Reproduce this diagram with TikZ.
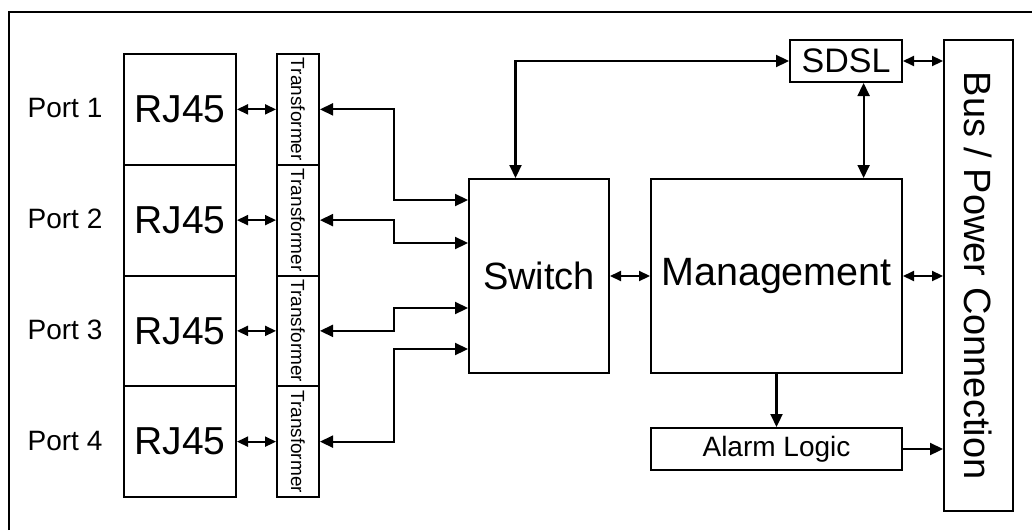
\documentclass[tikz,border=0pt]{standalone}
\usepackage{fontspec}
\setmainfont{Liberation Sans}
\usetikzlibrary{arrows.meta}
\begin{document}
\begin{tikzpicture}[x=1pt,y=-1pt,
  box/.style={draw, line width=2pt, inner sep=0pt, anchor=north west},
  conn/.style={line width=2.2pt, {Triangle[length=13pt,width=12pt]}-{Triangle[length=13pt,width=12pt]}},
  sconn/.style={line width=2.2pt, {Triangle[length=11pt,width=10pt]}-{Triangle[length=11pt,width=10pt]}},
  oconn/.style={line width=2.2pt, -{Triangle[length=13pt,width=12pt]}},
  portlbl/.style={font=\fontsize{28}{30}\selectfont},
  big/.style={font=\fontsize{39}{42}\selectfont},
  rjbox/.style={box, minimum width=112pt, minimum height=110.75pt, big},
  trbox/.style={box, minimum width=42pt, minimum height=110.75pt, font=\fontsize{19}{20}\selectfont}
]
\useasboundingbox (0,0) rectangle (1032,530);
\draw[line width=2.2pt] (9,530) -- (9,12) -- (1032,12);

\foreach \i/\y in {1/53,2/163.75,3/274.5,4/385.25}{
  \node[rjbox] (rj\i) at (123,\y) {RJ45};
  \node[trbox] (t\i) at (276,\y) {\rotatebox{-90}{Transformer}};
  \node[portlbl] (p\i) at (65,\y+55.4) {Port \i};
  \draw[sconn] (rj\i.east) -- (t\i.west);
}

\node[box, minimum width=140pt, minimum height=194pt, font=\fontsize{38}{40}\selectfont] (sw) at (468,178) {Switch};
\node[box, minimum width=251pt, minimum height=194pt, font=\fontsize{39.5}{42}\selectfont] (mg) at (650,178) {Management};
\node[box, minimum width=112pt, minimum height=42pt, font=\fontsize{34}{36}\selectfont] (sdsl) at (789,39) {SDSL};
\node[box, minimum width=251pt, minimum height=42pt, font=\fontsize{28}{30}\selectfont] (al) at (650,427) {Alarm Logic};
\node[box, minimum width=69pt, minimum height=471pt, font=\fontsize{38}{40}\selectfont] (bus) at (943,39) {\rotatebox{-90}{Bus / Power Connection}};

\coordinate (jx) at (394,0);
\draw[conn] (t1.east) -- (t1.east -| jx) |- ([yshift=-22pt]sw.north west);
\draw[conn] (t2.east) -- (t2.east -| jx) |- ([yshift=-65pt]sw.north west);
\draw[conn] (t3.east) -- (t3.east -| jx) |- ([yshift=-130pt]sw.north west);
\draw[conn] (t4.east) -- (t4.east -| jx) |- ([yshift=-171pt]sw.north west);

\coordinate (vx) at (863.6,0);
\draw[conn] (sdsl.west) -| ([xshift=47.5pt]sw.north west);
\draw[conn] (sdsl.south -| vx) -- (mg.north -| vx);
\draw[sconn] (sdsl.east) -- (sdsl.east -| bus.west);
\draw[sconn] (sw.east) -- (mg.west);
\draw[sconn] (mg.east) -- (mg.east -| bus.west);
\draw[oconn] (mg.south) -- (al.north);
\draw[oconn] (al.east) -- (al.east -| bus.west);
\end{tikzpicture}
\end{document}
